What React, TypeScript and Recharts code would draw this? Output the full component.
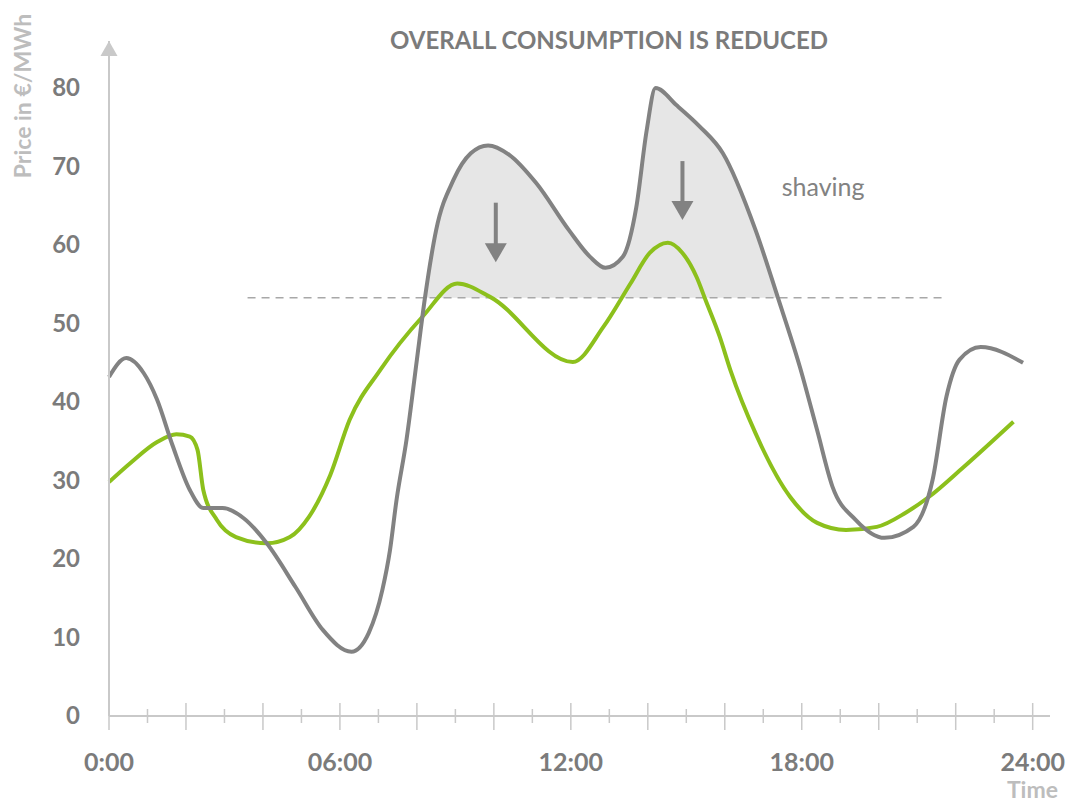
import React from "react";
import {
  ComposedChart,
  Line,
  Area,
  XAxis,
  YAxis,
  ReferenceLine,
  ReferenceDot,
} from "recharts";

// hour of day -> €/MWh
const grayHours = [0, 0.45, 0.9, 1.25, 1.65, 2.1, 2.45, 2.95, 3.5, 4.1, 4.85, 5.55, 6.3, 6.75, 7.1, 7.3, 7.47, 7.73, 8.0, 8.21, 8.5, 8.95, 9.4, 9.85, 10.4, 11.1, 11.95, 12.5, 12.9, 13.35, 13.7, 13.97, 14.2, 14.75, 15.35, 15.95, 16.8, 17.38, 17.95, 18.4, 18.8, 19.4, 20.15, 20.9, 21.4, 21.76, 22.1, 22.65, 23.75];
const grayPrices = [43.2, 45.6, 43.7, 40.3, 34.5, 28.8, 26.5, 26.5, 25.2, 22.0, 16.4, 11.0, 8.2, 10.6, 16.0, 21.1, 27.5, 35.2, 45.4, 53.3, 61.9, 68.3, 71.7, 72.7, 71.5, 67.9, 61.9, 58.5, 57.1, 58.5, 64.8, 74.6, 80.0, 77.8, 75.1, 71.7, 61.9, 53.3, 44.5, 36.4, 29.2, 25.0, 22.7, 24.1, 30.1, 40.7, 45.4, 47.0, 45.0];

const greenHours = [0, 0.55, 1.25, 1.75, 2.1, 2.3, 2.45, 2.8, 3.3, 4.1, 4.7, 5.2, 5.75, 6.25, 7.05, 8.15, 9.05, 9.9, 12.05, 12.85, 13.55, 14.05, 14.52, 14.9, 15.27, 15.5, 15.87, 16.15, 16.8, 17.7, 18.4, 19.15, 19.95, 20.7, 21.3, 22.2, 23.5];
const greenPrices = [29.8, 32.2, 34.9, 35.9, 35.6, 33.9, 28.8, 25.0, 22.8, 22.0, 22.8, 25.4, 30.7, 37.7, 44.1, 50.9, 55.1, 53.4, 45.1, 49.6, 55.1, 59.0, 60.3, 59.0, 55.9, 53.0, 48.3, 44.0, 36.0, 27.9, 24.6, 23.7, 24.1, 25.9, 27.9, 31.7, 37.5];

const threshold = 53.3;
const thresholdFrom = 3.6;
const thresholdTo = 21.7;

const priceTicks = [0, 10, 20, 30, 40, 50, 60, 70, 80];
const hourTicks = Array.from({ length: 25 }, (_, i) => i);
const hourLabels: Record<number, string> = { 0: "0:00", 6: "06:00", 12: "12:00", 18: "18:00", 24: "24:00" };

// shaving arrows: [hour, from, to]
const arrows = [
  [10.05, 65.4, 57.8],
  [14.9, 70.7, 63.2],
];

const grayData = grayHours.map((h, i) => ({
  h,
  price: grayPrices[i],
  shave: grayPrices[i] >= threshold ? [threshold, grayPrices[i]] : null,
}));
const greenData = greenHours.map((h, i) => ({ h, price: greenPrices[i] }));

const FONT = "Lato, 'Open Sans', sans-serif";
const AXIS = "#c9c9c9";
const GRAY = "#828282";
const GREEN = "#8cc01c";
const LABEL = "#7b7b7b";
const LIGHT = "#bdbdbd";

function HourTick({ x, y, payload }: any) {
  const h = payload.value as number;
  const major = h % 2 === 0;
  return (
    <g>
      <line x1={x} x2={x} y1={y - (major ? 13 : 7)} y2={y + (major ? 14 : 7)} stroke={AXIS} strokeWidth={1.5} />
      {hourLabels[h] && (
        <text x={x} y={y + 55} textAnchor="middle" fill={LABEL} fontSize={25} fontWeight={700} fontFamily={FONT}>
          {hourLabels[h]}
        </text>
      )}
    </g>
  );
}

function PriceTick({ x, y, payload }: any) {
  return (
    <text x={x} y={y + 8} textAnchor="end" fill={LABEL} fontSize={24} fontWeight={700} fontFamily={FONT}>
      {payload.value}
    </text>
  );
}

function DownArrow(props: any) {
  const { x1, y1, y2 } = props;
  return (
    <g>
      <line x1={x1} x2={x1} y1={y1} y2={y2 - 16} stroke={GRAY} strokeWidth={4} />
      <polygon points={`${x1 - 11},${y2 - 19} ${x1 + 11},${y2 - 19} ${x1},${y2}`} fill={GRAY} />
    </g>
  );
}

export default function App() {
  return (
    <div style={{ position: "absolute", left: 0, top: 0, width: 1070, height: 805, background: "#fff" }}>
      <div
        style={{
          position: "absolute",
          top: 28,
          left: 0,
          width: 1218,
          textAlign: "center",
          fontFamily: FONT,
          fontWeight: 700,
          fontSize: 24,
          color: LABEL,
          lineHeight: "24px",
        }}
      >
        OVERALL CONSUMPTION IS REDUCED
      </div>
      <ComposedChart width={1070} height={805} margin={{ top: 41, right: 20, bottom: 29, left: 0 }}>
        <XAxis
          type="number"
          dataKey="h"
          domain={[0, 24.45]}
          ticks={hourTicks}
          interval={0}
          tick={<HourTick />}
          tickSize={0}
          tickMargin={0}
          axisLine={{ stroke: AXIS, strokeWidth: 2 }}
          height={60}
          allowDuplicatedCategory={false}
        />
        <YAxis
          type="number"
          domain={[0, 86]}
          ticks={priceTicks}
          interval={0}
          tick={<PriceTick />}
          tickSize={0}
          tickMargin={29}
          axisLine={{ stroke: AXIS, strokeWidth: 2 }}
          width={109}
          label={() => (
            <text
              x={22}
              y={96}
              transform="rotate(-90 22 96)"
              textAnchor="middle"
              dominantBaseline="central"
              fill={LIGHT}
              fontSize={23}
              fontWeight={700}
              fontFamily={FONT}
            >
              Price in €/MWh
            </text>
          )}
        />
        <Area
          data={grayData}
          dataKey="shave"
          type="monotone"
          stroke="none"
          fill="#e6e6e6"
          fillOpacity={1}
          isAnimationActive={false}
          connectNulls={false}
          activeDot={false}
        />
        <ReferenceLine
          segment={[{ x: thresholdFrom, y: threshold }, { x: thresholdTo, y: threshold }]}
          stroke="#a8a8a8"
          strokeWidth={1.5}
          strokeDasharray="8 6"
        />
        <Line
          data={greenData}
          dataKey="price"
          type="monotone"
          stroke={GREEN}
          strokeWidth={4}
          dot={false}
          activeDot={false}
          isAnimationActive={false}
        />
        <Line
          data={grayData}
          dataKey="price"
          type="monotone"
          stroke={GRAY}
          strokeWidth={4}
          dot={false}
          activeDot={false}
          isAnimationActive={false}
        />
        {arrows.map(([h, from, to]) => (
          <ReferenceLine
            key={h}
            segment={[{ x: h, y: from }, { x: h, y: to }]}
            shape={<DownArrow />}
          />
        ))}
        <ReferenceDot
          x={0}
          y={86}
          ifOverflow="visible"
          shape={(p: any) => (
            <polygon points={`${p.cx - 8.5},${p.cy + 15} ${p.cx + 8.5},${p.cy + 15} ${p.cx},${p.cy}`} fill={AXIS} />
          )}
        />
        <ReferenceDot
          x={17.48}
          y={66.2}
          ifOverflow="visible"
          shape={(p: any) => (
            <text x={p.cx} y={p.cy} fill={GRAY} fontSize={25} fontFamily={FONT}>
              shaving
            </text>
          )}
        />
        <ReferenceDot
          x={24.45}
          y={0}
          ifOverflow="visible"
          shape={(p: any) => (
            <text x={p.cx + 8} y={p.cy + 82} textAnchor="end" fill={LIGHT} fontSize={23} fontWeight={700} fontFamily={FONT}>
              Time
            </text>
          )}
        />
      </ComposedChart>
    </div>
  );
}
